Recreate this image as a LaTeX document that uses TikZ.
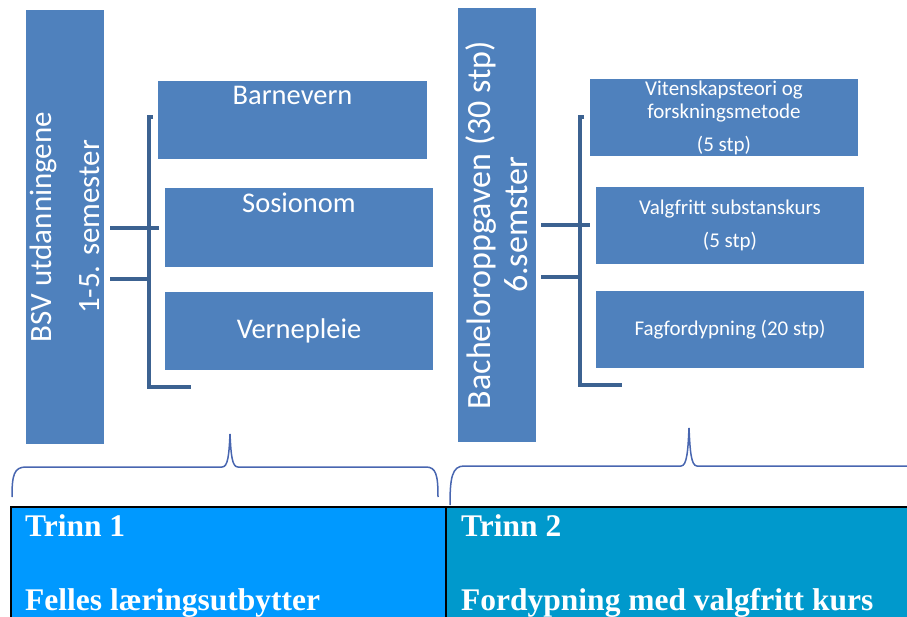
\documentclass[tikz,border=0pt]{standalone}
\usepackage{fontspec}
\setmainfont{Carlito}
\newfontfamily\trinnfont{Liberation Serif}
\usepackage{xcolor}
\definecolor{ColBox}{RGB}{79,129,189}
\definecolor{ColLine}{RGB}{60,98,145}
\definecolor{ColBrace}{RGB}{72,102,176}
\definecolor{ColT1}{RGB}{0,153,255}
\definecolor{ColT2}{RGB}{0,153,204}
\usepackage{tikz}
\tikzstyle{Box}=[fill=ColBox,inner sep=0pt,text=white,align=center]
\tikzstyle{Tall}=[Box,rotate=90,minimum width=434pt,minimum height=78pt]
\tikzstyle{Sub}=[Box,minimum width=268pt,minimum height=77pt,
font=\fontsize{21}{23}\selectfont]
\tikzstyle{SubBig}=[Box,minimum width=268pt,minimum height=78pt,
font=\fontsize{28.5}{30}\selectfont]
\tikzstyle{SubText}=[text=white,inner sep=0pt,anchor=base,
font=\fontsize{28.5}{30}\selectfont]
\tikzstyle{Bracket}=[draw=ColLine,line width=4pt]
\tikzstyle{Brace}=[draw=ColBrace,line width=1.5pt]
\tikzstyle{TrinnBox}=[draw=black,line width=2pt,anchor=north west,
minimum height=130pt]
\tikzstyle{TrinnText}=[text=white,inner sep=0pt,anchor=base west,
font=\fontsize{31.5}{32}\trinnfont\bfseries]

\begin{document}
\begin{tikzpicture}[x=1pt,y=-1pt]
    \useasboundingbox (0,0) rectangle (907,617);
    \clip (0,0) rectangle (907,617);
    % Trinn 1 and Trinn 2
    \node[TrinnBox,fill=ColT1,minimum width=435pt](trinn1)at(10,506){};
    \node[TrinnBox,fill=ColT2,minimum width=480pt](trinn2)at(445,506){};
    \node[TrinnText](t1a)at(25,536){Trinn 1};
    \node[TrinnText](t1b)at(25,610){Felles læringsutbytter};
    \node[TrinnText](t2a)at(461,536){Trinn 2};
    \node[TrinnText](t2b)at(461,610){Fordypning med valgfritt kurs};
    % tall boxes
    \node[Tall,font=\fontsize{31}{48}\selectfont](bsv)at(65,227)
        {BSV utdanningene\\1-5. semester};
    \node[Tall,font=\fontsize{34}{37}\selectfont](bach)at(497,225)
        {Bacheloroppgaven (30 stp)\\6.semster};
    % trinn 1 boxes
    \node[SubBig,minimum width=269pt](barnevern)at(292.5,120){};
    \node[SubText](barnevern-t)at([yshift=-24pt]barnevern.north){Barnevern};
    \node[SubBig,minimum width=268pt,minimum height=79pt](sosionom)
        at(299,227.5){};
    \node[SubText](sosionom-t)at([yshift=-25pt]sosionom.north){Sosionom};
    \node[SubBig](vernepleie)at(299,331){Vernepleie};
    % trinn 2 boxes
    \node[Sub](vitenskap)at(724,117.5)
        {Vitenskapsteori og\\forskningsmetode\\[10pt](5 stp)};
    \node[Sub](valgfritt)at(730,225.5)
        {Valgfritt substanskurs\\[10pt](5 stp)};
    \node[Sub](fag)at(730,329.5){Fagfordypning (20 stp)};
    % brackets
    \coordinate(l0)at(153,117);
    \coordinate(l1)at(149,117);
    \coordinate(l2)at(149,387);
    \coordinate(l3)at(191,387);
    \coordinate(la)at(110,228);
    \coordinate(lb)at(159,228);
    \coordinate(lc)at(110,279);
    \coordinate(ld)at(149,279);
    \draw[Bracket](l0)--(l1)--(l2)--(l3);
    \draw[Bracket](la)--(lb);
    \draw[Bracket](lc)--(ld);
    \coordinate(r0)at(584,117);
    \coordinate(r1)at(580,117);
    \coordinate(r2)at(580,385);
    \coordinate(r3)at(622,385);
    \coordinate(ra)at(541,225);
    \coordinate(rb)at(590,225);
    \coordinate(rc)at(541,277);
    \coordinate(rd)at(580,277);
    \draw[Bracket](r0)--(r1)--(r2)--(r3);
    \draw[Bracket](ra)--(rb);
    \draw[Bracket](rc)--(rd);
    % braces
    \coordinate(b1s)at(12,497);
    \coordinate(b1t)at(230,434);
    \coordinate(b1e)at(438,497);
    \draw[Brace](b1s)..controls(12,475)and(14,467)..(26,467)--(222,467)
        ..controls(228,467)and(229,455)..(b1t)
        ..controls(231,455)and(232,467)..(238,467)--(426,467)
        ..controls(436,467)and(438,475)..(b1e);
    \coordinate(b2s)at(450,505);
    \coordinate(b2t)at(689,428);
    \coordinate(b2e)at(910,466);
    \draw[Brace](b2s)..controls(450,478)and(452,466)..(464,466)--(681,466)
        ..controls(687,466)and(688,450)..(b2t)
        ..controls(690,450)and(691,466)..(697,466)--(b2e);
\end{tikzpicture}
\end{document}
